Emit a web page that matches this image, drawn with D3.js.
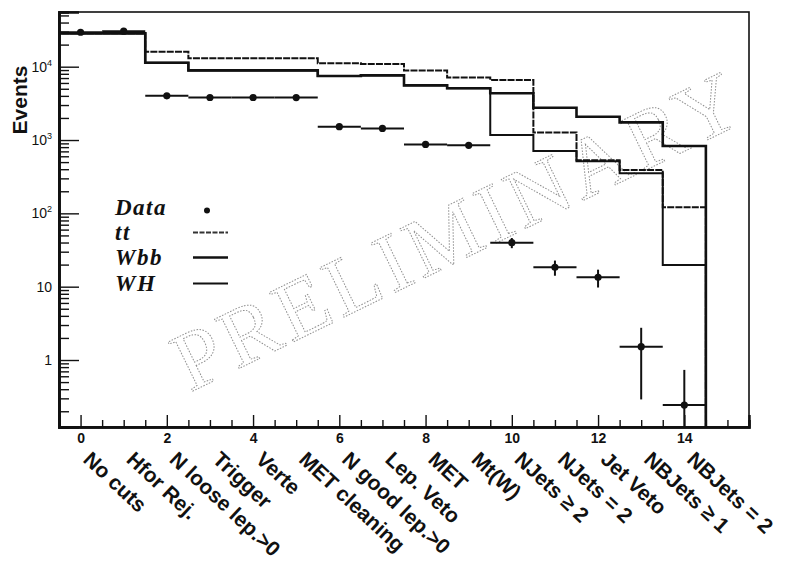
<!DOCTYPE html>
<html>
<head>
<meta charset="utf-8">
<script src="https://cdn.jsdelivr.net/npm/d3@7"></script>
<style>
  body { margin: 0; background: #fff; }
  svg { display: block; }
</style>
</head>
<body>
<svg id="chart" width="785" height="569"></svg>
<script>
// Cut-flow: events surviving each selection step
const steps = ["No cuts", "Hfor Rej.", "N loose lep.>0", "Trigger", "Verte", "MET cleaning",
  "N good lep.>0", "Lep. Veto", "MET", "Mt(W)", "NJets \u2265 2", "NJets = 2", "Jet Veto",
  "NBJets \u2265 1", "NBJets = 2"];

const dataValues = [29500, 30500, 4000, 3800, 3800, 3790, 1520, 1440, 870, 846, 39.8, 18.4, 13.4, 1.52, 0.243];
const dataErrors = [172, 175, 63, 62, 62, 62, 39, 38, 29.5, 29.1, 6.3, 4.3, 3.66, 1.23, 0.49];

const ttValues  = [28500, 28500, 16000, 13000, 13000, 13000, 11100, 10900, 8900, 7100, 6600, 1270, 530, 390, 121];
const wbbValues = [28500, 28500, 11300, 8900, 8900, 8900, 7460, 7620, 5570, 5070, 4340, 2760, 2080, 1740, 828];
const whValues  = [28500, 28500, 11300, 8900, 8900, 8900, 7460, 7620, 5570, 5070, 1170, 707, 515, 352, 19.7];

const xTickValues = [0, 2, 4, 6, 8, 10, 12, 14];
const yMajorTicks = [1, 10, 100, 1000, 10000];
const yLabels = [{base: "1", exp: ""}, {base: "10", exp: ""}, {base: "10", exp: "2"}, {base: "10", exp: "3"}, {base: "10", exp: "4"}];

const legendItems = [
  {label: "Data", kind: "marker"},
  {label: "tt", kind: "tt"},
  {label: "Wbb", kind: "wbb"},
  {label: "WH", kind: "wh"}
];

const svg = d3.select("#chart");
const ink = "#111";
const frame = {left: 59, right: 749, top: 12, bottom: 427};

const x = d3.scaleLinear().domain([-0.5, 15.5]).range([frame.left, frame.right]);
const y = d3.scaleLog().domain([0.122, 55700]).range([frame.bottom, frame.top]);

svg.append("defs").append("clipPath").attr("id", "plotClip")
  .append("rect").attr("x", frame.left).attr("y", frame.top)
  .attr("width", frame.right - frame.left).attr("height", frame.bottom - frame.top);

// Watermark
svg.append("text")
  .attr("transform", "translate(458,230) rotate(-26)")
  .attr("text-anchor", "middle")
  .attr("dominant-baseline", "central")
  .style("font-family", "'Liberation Serif', 'DejaVu Serif', serif")
  .style("font-size", "84px")
  .style("letter-spacing", "5px")
  .attr("fill", "none")
  .attr("stroke", "#909090")
  .attr("stroke-width", 1)
  .attr("stroke-dasharray", "1.5,1.5")
  .text("PRELIMINARY");

const plot = svg.append("g").attr("clip-path", "url(#plotClip)");

// Step histograms
function stepPoints(values) {
  const pts = [[x(-0.5), frame.bottom + 5]];
  values.forEach((v, i) => {
    pts.push([x(i - 0.5), y(v)]);
    pts.push([x(i + 0.5), y(v)]);
  });
  pts.push([x(values.length - 0.5), frame.bottom + 5]);
  return pts;
}
const line = d3.line();

plot.append("path").attr("d", line(stepPoints(whValues)))
  .attr("fill", "none").attr("stroke", ink).attr("stroke-width", 2);
plot.append("path").attr("d", line(stepPoints(wbbValues)))
  .attr("fill", "none").attr("stroke", ink).attr("stroke-width", 2.6);
plot.append("path").attr("d", line(stepPoints(ttValues)))
  .attr("fill", "none").attr("stroke", ink).attr("stroke-width", 2)
  .attr("stroke-dasharray", "7,1.2");

// Data points with error bars
const pts = plot.append("g");
dataValues.forEach((v, i) => {
  const e = dataErrors[i];
  const lo = v - e > 0 ? y(v - e) : frame.bottom + 5;
  pts.append("line").attr("x1", x(i - 0.5)).attr("x2", x(i + 0.5))
    .attr("y1", y(v)).attr("y2", y(v)).attr("stroke", ink).attr("stroke-width", 2);
  pts.append("line").attr("x1", x(i)).attr("x2", x(i))
    .attr("y1", y(v + e)).attr("y2", lo).attr("stroke", ink).attr("stroke-width", 2);
  pts.append("circle").attr("cx", x(i)).attr("cy", y(v)).attr("r", 3.6).attr("fill", ink);
});

// Frame
svg.append("rect").attr("x", frame.left).attr("y", frame.top)
  .attr("width", frame.right - frame.left).attr("height", frame.bottom - frame.top)
  .attr("fill", "none").attr("stroke", ink).attr("stroke-width", 1.6);

// X axis ticks
const xMinor = d3.range(-0.5, 15.51, 0.5).filter(v => v % 2 !== 0);
const xAxisMinor = d3.axisBottom(x).tickValues(xMinor).tickSize(-7).tickFormat("");
const xAxisMajor = d3.axisBottom(x).tickValues(xTickValues).tickSize(-12).tickPadding(6).tickFormat(d3.format("d"));
const gxm = svg.append("g").attr("transform", `translate(0,${frame.bottom})`).call(xAxisMinor);
const gx = svg.append("g").attr("transform", `translate(0,${frame.bottom})`).call(xAxisMajor);
[gxm, gx].forEach(g => {
  g.select(".domain").attr("stroke", ink).attr("stroke-width", 2.4);
  g.selectAll(".tick line").attr("stroke", ink).attr("stroke-width", 1.4);
});
gx.selectAll(".tick text")
  .attr("fill", ink)
  .style("font-family", "'Liberation Sans', Arial, sans-serif")
  .style("font-size", "14px")
  .style("font-weight", "bold");

// Y axis ticks
const yMinor = [];
[0.1, 1, 10, 100, 1000, 10000].forEach(d => {
  for (let k = 2; k <= 9; k++) {
    const v = d * k;
    if (v >= y.domain()[0] && v <= y.domain()[1]) yMinor.push(v);
  }
});
const gym = svg.append("g").attr("transform", `translate(${frame.left},0)`)
  .call(d3.axisLeft(y).tickValues(yMinor).tickSize(-10).tickFormat(""));
const gy = svg.append("g").attr("transform", `translate(${frame.left},0)`)
  .call(d3.axisLeft(y).tickValues(yMajorTicks).tickSize(-20).tickFormat(""));
[gym, gy].forEach(g => {
  g.select(".domain").attr("stroke", ink).attr("stroke-width", 2.6);
  g.selectAll(".tick line").attr("stroke", ink).attr("stroke-width", 1.4);
});

// Y tick labels with exponents
const ylab = svg.append("g")
  .style("font-family", "'Liberation Sans', Arial, sans-serif")
  .attr("fill", ink);
yMajorTicks.forEach((v, i) => {
  const lab = yLabels[i];
  const t = ylab.append("text")
    .attr("x", 52).attr("y", y(v) + 5)
    .attr("text-anchor", "end")
    .style("font-size", "14px");
  t.append("tspan").text(lab.base);
  if (lab.exp) {
    t.append("tspan").attr("dy", -6).style("font-size", "9px").text(lab.exp);
  }
});

// Y axis title
svg.append("text")
  .attr("transform", "translate(27,100) rotate(-90)")
  .attr("text-anchor", "middle")
  .attr("fill", ink)
  .style("font-family", "'Liberation Sans', Arial, sans-serif")
  .style("font-size", "21px")
  .style("font-weight", "bold")
  .text("Events");

// Selection-step labels
const catG = svg.append("g")
  .style("font-family", "'Liberation Sans', Arial, sans-serif")
  .style("font-size", "21px")
  .style("font-weight", "bold")
  .attr("fill", ink);
steps.forEach((s, i) => {
  catG.append("text")
    .attr("transform", `translate(${x(i) + 1.5},461) rotate(43)`)
    .text(s);
});

// Legend
const leg = svg.append("g");
const legY = [207, 232, 257, 283];
legendItems.forEach((item, i) => {
  leg.append("text")
    .attr("x", 115).attr("y", legY[i])
    .attr("dominant-baseline", "central")
    .attr("fill", ink)
    .style("font-family", "'Liberation Serif', 'Times New Roman', serif")
    .style("font-size", "23px")
    .style("letter-spacing", "1.5px")
    .style("font-weight", "bold")
    .style("font-style", "italic")
    .text(item.label);
  if (item.kind === "marker") {
    leg.append("circle").attr("cx", 207).attr("cy", legY[i] + 3.5).attr("r", 3).attr("fill", ink);
  } else {
    const l = leg.append("line").attr("x1", 193).attr("x2", 228)
      .attr("y1", legY[i] + 0.5).attr("y2", legY[i] + 0.5).attr("stroke", ink);
    if (item.kind === "tt") l.attr("stroke-width", 1.8).attr("stroke-dasharray", "5,1.5").attr("stroke", "#333");
    if (item.kind === "wbb") l.attr("stroke-width", 2.6);
    if (item.kind === "wh") l.attr("stroke-width", 2);
  }
});
</script>
</body>
</html>
